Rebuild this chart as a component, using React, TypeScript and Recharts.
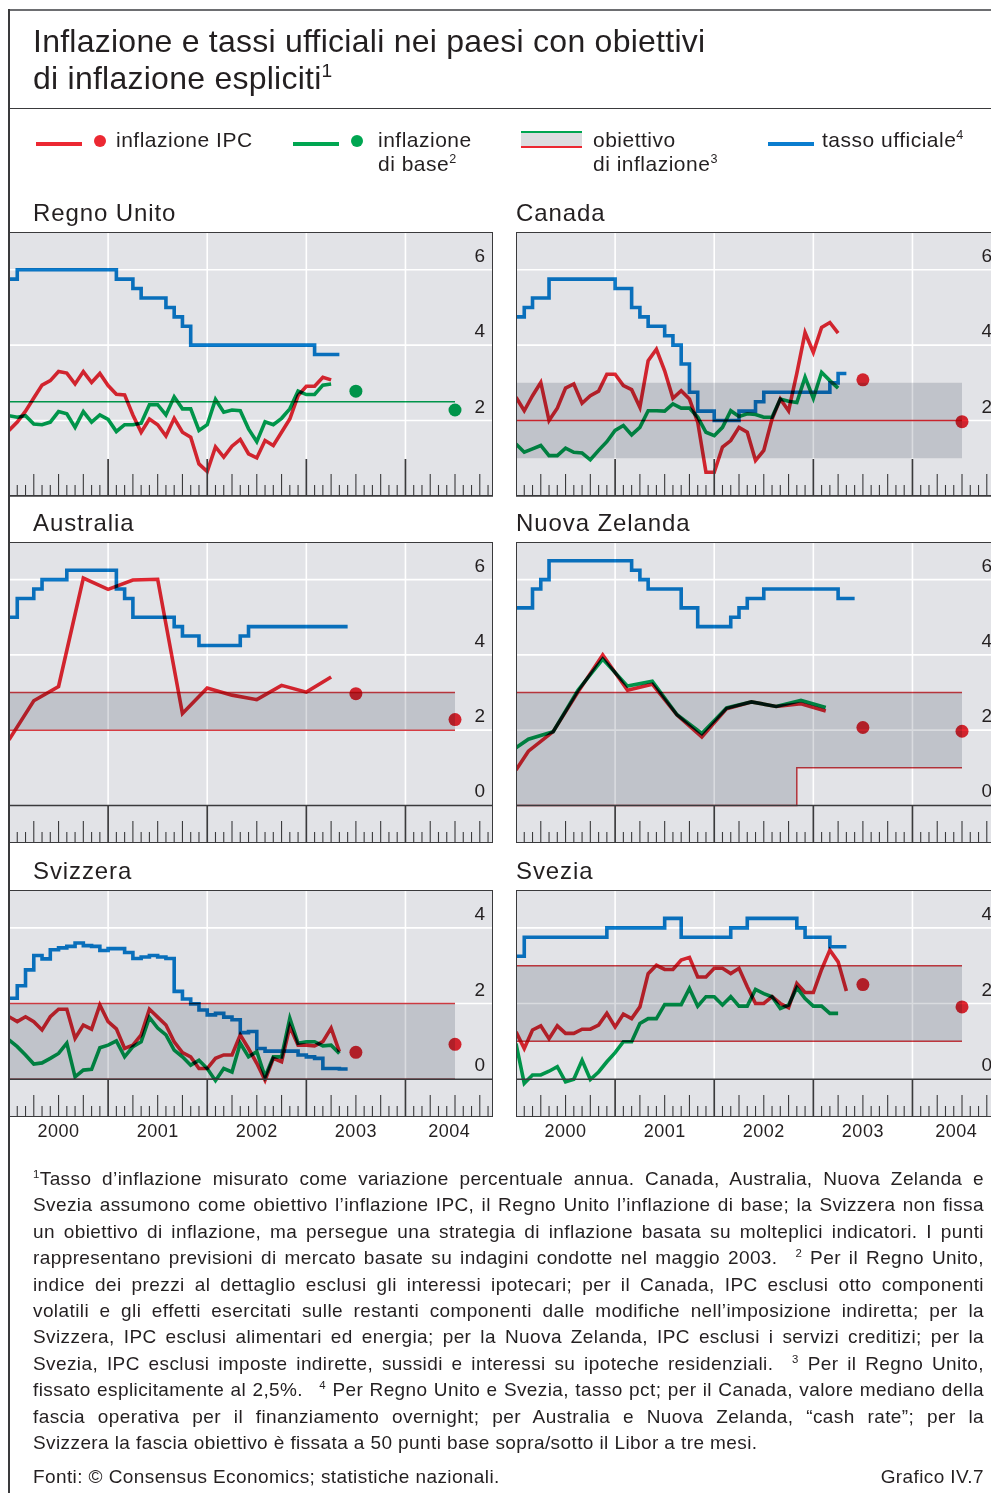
import { ComposedChart, Line, Area, Scatter, XAxis, YAxis, CartesianGrid, ReferenceLine } from "recharts"

const FONT = '"Liberation Sans", Arial, Helvetica, sans-serif'
const INK = "#231f20"
const DARK = "#3a3a3c"
const RED = "#ec2832"
const GREEN = "#00a651"
const BLUE = "#0a7dcf"
const EDGE = "#de3e45"
const BG = "#e2e3e7"
const BAND = "#d9dbdf"

// lines, band and dots are multiplied so overlaps darken like the print
const BLEND_CSS = `.recharts-line-curve,.recharts-area-area,.recharts-area-curve{mix-blend-mode:multiply}`

const X_MAX = 58.6
const PANEL_W = 484

// x axis: months from Jan 2000
const monthTicks = Array.from({ length: 58 }, (_, i) => i + 1)
const yearLines = [12, 24, 36, 48]
const yearLabels = ["2000", "2001", "2002", "2003", "2004"]
const yearLabelPos = [6, 18, 30, 42, 53.3]
const forecastMonths = [42, 54]
const bandMonths = [0, 54]

// Regno Unito
const ukCpi = [1.74, 1.96, 2.25, 2.6, 2.94, 3.06, 3.3, 3.26, 2.97, 3.3, 3.01, 3.25, 2.93, 2.7, 2.68, 2.15, 1.69, 2.04, 1.89, 1.59, 2.06, 1.69, 1.56, 0.85, 0.65, 1.3, 1.03, 1.32, 1.5, 1.12, 1.01, 1.47, 1.34, 1.69, 2.04, 2.66, 2.91, 2.91, 3.15, 3.08]
const ukCore = [2.13, 2.09, 2.13, 1.91, 1.89, 1.96, 2.24, 2.18, 1.82, 2.24, 1.96, 2.15, 2.03, 1.71, 1.89, 1.89, 1.93, 2.42, 2.42, 2.15, 2.63, 2.31, 2.31, 1.74, 1.89, 2.56, 2.22, 2.28, 2.26, 1.78, 1.44, 1.97, 1.89, 2.06, 2.31, 2.78, 2.69, 2.69, 2.94, 2.97]
const ukRate = [5.75, 6, 6, 6, 6, 6, 6, 6, 6, 6, 6, 6, 6, 5.75, 5.75, 5.5, 5.25, 5.25, 5.25, 5, 4.75, 4.5, 4, 4, 4, 4, 4, 4, 4, 4, 4, 4, 4, 4, 4, 4, 4, 3.75, 3.75, 3.75]
const ukCoreForecast = [2.78, 2.28]
const ukTarget = [2.5, 2.5]

// Canada
const caCpi = [2.62, 2.26, 2.66, 3.01, 2.0, 2.33, 2.86, 2.97, 2.46, 2.66, 2.78, 3.23, 3.23, 2.93, 2.82, 2.35, 3.59, 3.89, 3.32, 2.59, 2.79, 2.57, 1.96, 0.63, 0.63, 1.3, 1.47, 1.82, 1.69, 0.94, 1.21, 2.04, 2.57, 2.26, 3.25, 4.33, 3.81, 4.47, 4.6, 4.32]
const caCore = [1.38, 1.16, 1.25, 1.34, 1.07, 1.07, 1.27, 1.16, 1.14, 0.96, 1.21, 1.44, 1.74, 1.87, 1.62, 1.82, 2.26, 2.26, 2.25, 2.44, 2.33, 2.33, 2.09, 1.69, 1.6, 1.82, 2.26, 2.11, 2.18, 2.16, 2.09, 2.09, 2.57, 2.51, 2.48, 3.15, 2.59, 3.28, 3.06, 2.86]
const caRate = [4.75, 5, 5.25, 5.25, 5.75, 5.75, 5.75, 5.75, 5.75, 5.75, 5.75, 5.75, 5.5, 5.5, 5, 4.75, 4.5, 4.5, 4.25, 4, 3.5, 2.75, 2.25, 2.25, 2, 2, 2, 2.25, 2.25, 2.5, 2.75, 2.75, 2.75, 2.75, 2.75, 2.75, 2.75, 2.75, 3, 3.25]
const caCpiForecast = [3.08, 1.97]
const caBandLo = [1, 1]
const caBandHi = [3, 3]
const caMid = [2, 2]

// Australia
const auCpiMonths = [0, 3, 6, 9, 12, 15, 18, 21, 24, 27, 30, 33, 36, 39]
const auCpi = [1.74, 2.78, 3.16, 6.04, 5.74, 5.99, 6.01, 2.44, 3.12, 2.93, 2.81, 3.19, 3.01, 3.41]
const auRate = [5, 5.5, 5.5, 5.75, 6, 6, 6, 6.25, 6.25, 6.25, 6.25, 6.25, 6.25, 5.75, 5.5, 5, 5, 5, 5, 5, 4.75, 4.5, 4.5, 4.25, 4.25, 4.25, 4.25, 4.25, 4.5, 4.75, 4.75, 4.75, 4.75, 4.75, 4.75, 4.75, 4.75, 4.75, 4.75, 4.75, 4.75]
const auCpiForecast = [2.97, 2.28]
const auBandLo = [2, 2]
const auBandHi = [3, 3]

// Nuova Zelanda
const nzMonths = [0, 1.5, 4.5, 7.5, 10.5, 13.5, 16.5, 19.5, 22.5, 25.5, 28.5, 31.5, 34.5, 37.5]
const nzCpi = [0.94, 1.44, 1.96, 3.01, 4.0, 3.06, 3.22, 2.4, 1.82, 2.57, 2.75, 2.63, 2.7, 2.51]
const nzCore = [1.53, 1.76, 1.96, 3.06, 3.89, 3.17, 3.3, 2.41, 1.91, 2.59, 2.75, 2.63, 2.79, 2.6]
const nzRate = [5.25, 5.25, 5.75, 6, 6.5, 6.5, 6.5, 6.5, 6.5, 6.5, 6.5, 6.5, 6.5, 6.5, 6.25, 6, 5.75, 5.75, 5.75, 5.75, 5.25, 5.25, 4.75, 4.75, 4.75, 4.75, 5, 5.25, 5.5, 5.5, 5.75, 5.75, 5.75, 5.75, 5.75, 5.75, 5.75, 5.75, 5.75, 5.5, 5.5]
const nzCpiForecast = [2.07, 1.97]
const nzBandMonths = [0, 34, 54]
const nzBandLo = [0, 1, 1]
const nzBandHi = [3, 3, 3]

// Svizzera
const chCpi = [1.65, 1.52, 1.65, 1.52, 1.3, 1.65, 1.85, 1.85, 1.08, 1.43, 1.32, 1.96, 1.52, 1.33, 0.81, 0.9, 1.17, 1.85, 1.64, 1.43, 0.99, 0.7, 0.59, 0.28, 0.28, 0.55, 0.64, 0.64, 1.17, 0.81, 0.42, -0.03, 0.55, 0.46, 1.39, 0.9, 0.9, 0.88, 0.99, 1.35, 0.73]
const chCore = [1.04, 0.86, 0.64, 0.4, 0.43, 0.55, 0.68, 0.95, 0.06, 0.24, 0.26, 0.83, 0.9, 1.01, 0.59, 0.86, 0.99, 1.63, 1.35, 1.17, 0.77, 0.59, 0.37, 0.5, 0.28, -0.04, 0.28, 0.19, 0.95, 0.59, 0.73, 0.06, 0.59, 0.59, 1.61, 0.95, 0.99, 0.99, 0.88, 0.9, 0.68]
const chRate = [2.14, 2.47, 2.89, 3.27, 3.18, 3.42, 3.47, 3.51, 3.6, 3.53, 3.51, 3.4, 3.45, 3.45, 3.35, 3.19, 3.23, 3.27, 3.23, 3.19, 2.32, 2.12, 1.99, 1.83, 1.7, 1.74, 1.64, 1.57, 1.23, 1.26, 0.81, 0.74, 0.74, 0.74, 0.74, 0.64, 0.59, 0.55, 0.28, 0.28, 0.27]
const chCpiForecast = [0.71, 0.92]
const chBandLo = [0, 0]
const chBandHi = [2, 2]

// Svezia
const seCpi = [1.25, 0.81, 1.3, 1.41, 1.07, 1.41, 1.21, 1.21, 1.32, 1.32, 1.43, 1.74, 1.38, 1.72, 1.6, 1.91, 2.79, 3.01, 2.9, 2.9, 3.15, 3.22, 2.7, 2.7, 2.93, 2.93, 2.79, 2.93, 2.44, 2.0, 2.0, 2.18, 2.0, 1.89, 2.53, 2.29, 2.29, 2.9, 3.41, 3.1, 2.33]
const seCore = [0.94, -0.11, 0.11, 0.11, 0.21, 0.33, -0.07, 0.0, 0.5, -0.01, 0.19, 0.46, 0.7, 0.99, 0.99, 1.47, 1.6, 1.6, 1.97, 1.97, 1.97, 2.4, 1.93, 2.18, 2.18, 1.96, 2.18, 1.93, 1.93, 2.37, 2.26, 2.18, 1.87, 1.96, 2.42, 2.13, 1.93, 1.93, 1.74, 1.74]
const seRate = [3.25, 3.75, 3.75, 3.75, 3.75, 3.75, 3.75, 3.75, 3.75, 3.75, 3.75, 4, 4, 4, 4, 4, 4, 4, 4.25, 4.25, 3.75, 3.75, 3.75, 3.75, 3.75, 3.75, 4, 4, 4.25, 4.25, 4.25, 4.25, 4.25, 4.25, 4, 3.75, 3.75, 3.75, 3.5, 3.5]
const seCpiForecast = [2.5, 1.91]
const seBandLo = [1, 1]
const seBandHi = [3, 3]

const monthly = (vals: number[]) => vals.map((v, i) => ({ m: i, v }))
// step series: repeat the last level for one more month so the final step is drawn
const stepped = (vals: number[]) => [...monthly(vals), { m: vals.length, v: vals[vals.length - 1] }]
const at = (months: number[], vals: number[]) => vals.map((v, i) => ({ m: months[i], v }))
const range = (months: number[], lo: number[], hi: number[]) => months.map((m, i) => ({ m, r: [lo[i], hi[i]] }))

const S = ({ n }: { n: string }) => (
  <sup style={{ fontSize: "0.6em", lineHeight: 0, verticalAlign: "0.6em" }}>{n}</sup>
)

// month ticks rise from the bottom of the plot; bottom row also carries the year labels
const AxisTick = ({ x, payload, bottom, years }: any) => {
  const v = payload.value
  const li = yearLabelPos.indexOf(v)
  const len = v % 12 === 0 ? 37 : v % 3 === 0 ? 22 : 11
  return (
    <g>
      {Number.isInteger(v) && (
        <line x1={x} x2={x} y1={bottom} y2={bottom - len} stroke={DARK} strokeWidth={v % 12 === 0 ? 1.7 : 1.1} />
      )}
      {years && li >= 0 && (
        <text x={x} y={bottom + 20} textAnchor="middle" fontSize={18} letterSpacing={0.5} fill={INK} fontFamily={FONT}>
          {yearLabels[li]}
        </text>
      )}
    </g>
  )
}

const dotShape = (color: string) => (props: any) => (
  <circle cx={props.cx} cy={props.cy} r={6.5} fill={color} style={{ mixBlendMode: "multiply" }} />
)

interface PanelProps {
  title: string
  left: number
  top: number
  h: number
  yMin: number
  yMax: number
  yTicks: number[]
  years?: boolean
  cpi: { m: number; v: number }[]
  core?: { m: number; v: number }[]
  rate: { m: number; v: number }[]
  dots: { m: number; v: number }[]
  dotColor: string
  band?: { m: number; r: number[] }[]
  bandType?: "linear" | "stepAfter"
  bandEdges?: boolean
  refLine?: { m: number; v: number }[]
  refColor?: string
}

function Panel(p: PanelProps) {
  const axisH = p.years ? 31 : 1
  const ticks = p.years ? Array.from(new Set([...monthTicks, ...yearLabelPos])).sort((a, b) => a - b) : monthTicks
  return (
    <>
      <div style={{ position: "absolute", left: p.left === 9 ? 33 : p.left, top: p.top - 33, fontSize: 24, letterSpacing: 0.9, lineHeight: "28px", whiteSpace: "nowrap" }}>
        {p.title}
      </div>
      <div style={{ position: "absolute", left: p.left, top: p.top, width: PANEL_W + 1, height: p.h + axisH }}>
        <ComposedChart width={PANEL_W + 1} height={p.h + axisH} margin={{ top: 0, right: 0, bottom: 0, left: 0 }}>
          <CartesianGrid
            fill={BG}
            fillOpacity={1}
            stroke="#ffffff"
            strokeWidth={1.6}
            horizontalValues={p.yTicks.filter((t) => t > 0)}
            verticalValues={yearLines}
          />
          <XAxis
            dataKey="m"
            type="number"
            domain={[0, X_MAX]}
            ticks={ticks}
            interval={0}
            height={axisH}
            axisLine={false}
            tickLine={false}
            tick={(t: any) => <AxisTick {...t} bottom={p.h} years={p.years} />}
          />
          <YAxis
            orientation="right"
            type="number"
            domain={[p.yMin, p.yMax]}
            ticks={p.yTicks}
            width={1}
            axisLine={false}
            tickLine={false}
            tick={(t: any) => (
              <text x={PANEL_W - 8} y={t.y - 8} textAnchor="end" fontSize={19} fill={INK} fontFamily={FONT}>
                {t.payload.value}
              </text>
            )}
          />
          {p.band && (
            <Area
              data={p.band}
              dataKey="r"
              type={p.bandType ?? "linear"}
              fill={BAND}
              fillOpacity={1}
              stroke={p.bandEdges ? EDGE : "none"}
              strokeWidth={1.5}
              dot={false}
              activeDot={false}
              isAnimationActive={false}
            />
          )}
          {p.refLine && (
            <Line data={p.refLine} dataKey="v" stroke={p.refColor} strokeWidth={1.5} dot={false} activeDot={false} isAnimationActive={false} />
          )}
          <Line data={p.rate} dataKey="v" type="stepAfter" stroke={BLUE} strokeWidth={3.6} dot={false} activeDot={false} isAnimationActive={false} />
          {p.core && (
            <Line data={p.core} dataKey="v" stroke={GREEN} strokeWidth={3.6} dot={false} activeDot={false} isAnimationActive={false} />
          )}
          <Line data={p.cpi} dataKey="v" stroke={RED} strokeWidth={3.6} dot={false} activeDot={false} isAnimationActive={false} />
          <ReferenceLine y={0} stroke={DARK} strokeWidth={1.5} />
          <Scatter data={p.dots} dataKey="v" shape={dotShape(p.dotColor)} isAnimationActive={false} />
        </ComposedChart>
        <div
          style={{
            position: "absolute",
            left: 0,
            top: 0,
            width: PANEL_W,
            height: p.h,
            border: `1.5px solid ${DARK}`,
            boxSizing: "border-box",
            pointerEvents: "none",
          }}
        />
      </div>
    </>
  )
}

const legendText: React.CSSProperties = {
  position: "absolute",
  top: 128,
  fontSize: 21,
  letterSpacing: 0.5,
  lineHeight: "24px",
  whiteSpace: "nowrap",
}

const notes = [
  <><S n="1" />Tasso d’inflazione misurato come variazione percentuale annua. Canada, Australia, Nuova Zelanda e</>,
  <>Svezia assumono come obiettivo l’inflazione IPC, il Regno Unito l’inflazione di base; la Svizzera non fissa</>,
  <>un obiettivo di inflazione, ma persegue una strategia di inflazione basata su molteplici indicatori. I punti</>,
  <>rappresentano previsioni di mercato basate su indagini condotte nel maggio 2003. {"\u2002"}<S n="2" /> Per il Regno Unito,</>,
  <>indice dei prezzi al dettaglio esclusi gli interessi ipotecari; per il Canada, IPC esclusi otto componenti</>,
  <>volatili e gli effetti esercitati sulle restanti componenti dalle modifiche nell’imposizione indiretta; per la</>,
  <>Svizzera, IPC esclusi alimentari ed energia; per la Nuova Zelanda, IPC esclusi i servizi creditizi; per la</>,
  <>Svezia, IPC esclusi imposte indirette, sussidi e interessi su ipoteche residenziali. {"\u2002"}<S n="3" /> Per il Regno Unito,</>,
  <>fissato esplicitamente al 2,5%. {"\u2002"}<S n="4" /> Per Regno Unito e Svezia, tasso pct; per il Canada, valore mediano della</>,
  <>fascia operativa per il finanziamento overnight; per Australia e Nuova Zelanda, “cash rate”; per la</>,
]
const lastNote = "Svizzera la fascia obiettivo è fissata a 50 punti base sopra/sotto il Libor a tre mesi."

export default function App() {
  return (
    <div
      style={{
        position: "absolute",
        left: 0,
        top: 0,
        width: 991,
        height: 1493,
        overflow: "hidden",
        background: "#ffffff",
        fontFamily: FONT,
        color: INK,
      }}
    >
      <style>{BLEND_CSS}</style>

      {/* frame */}
      <div style={{ position: "absolute", left: 8, top: 9, width: 983, height: 2, background: "#6d6e71" }} />
      <div style={{ position: "absolute", left: 8, top: 9, width: 1.5, height: 1484, background: DARK }} />
      <div style={{ position: "absolute", left: 8, top: 107.5, width: 983, height: 1.5, background: DARK }} />

      {/* title */}
      <div style={{ position: "absolute", left: 33, top: 23.4, fontSize: 32, letterSpacing: 0.25, lineHeight: "37px", whiteSpace: "nowrap" }}>
        Inflazione e tassi ufficiali nei paesi con obiettivi
        <br />
        di inflazione espliciti<S n="1" />
      </div>

      {/* legend */}
      <div style={{ position: "absolute", left: 36, top: 142, width: 46, height: 4, background: RED }} />
      <div style={{ position: "absolute", left: 94, top: 135, width: 12, height: 12, borderRadius: 6, background: RED }} />
      <div style={{ ...legendText, left: 116 }}>inflazione IPC</div>

      <div style={{ position: "absolute", left: 293, top: 142, width: 46, height: 4, background: GREEN }} />
      <div style={{ position: "absolute", left: 351, top: 135, width: 12, height: 12, borderRadius: 6, background: GREEN }} />
      <div style={{ ...legendText, left: 378 }}>
        inflazione
        <br />
        di base<S n="2" />
      </div>

      <div
        style={{
          position: "absolute",
          left: 521,
          top: 131,
          width: 61,
          height: 17,
          background: "#dcdde0",
          borderTop: `2.5px solid ${GREEN}`,
          borderBottom: `2.5px solid ${RED}`,
          boxSizing: "border-box",
        }}
      />
      <div style={{ ...legendText, left: 593 }}>
        obiettivo
        <br />
        di inflazione<S n="3" />
      </div>

      <div style={{ position: "absolute", left: 768, top: 142, width: 46, height: 4, background: BLUE }} />
      <div style={{ ...legendText, left: 822 }}>
        tasso ufficiale<S n="4" />
      </div>

      {/* panels */}
      <Panel
        title="Regno Unito"
        left={9}
        top={232}
        h={264}
        yMin={0}
        yMax={7}
        yTicks={[0, 2, 4, 6]}
        cpi={monthly(ukCpi)}
        core={monthly(ukCore)}
        rate={stepped(ukRate)}
        dots={at(forecastMonths, ukCoreForecast)}
        dotColor={GREEN}
        refLine={at(bandMonths, ukTarget)}
        refColor={GREEN}
      />
      <Panel
        title="Canada"
        left={516}
        top={232}
        h={264}
        yMin={0}
        yMax={7}
        yTicks={[0, 2, 4, 6]}
        cpi={monthly(caCpi)}
        core={monthly(caCore)}
        rate={stepped(caRate)}
        dots={at(forecastMonths, caCpiForecast)}
        dotColor={RED}
        band={range(bandMonths, caBandLo, caBandHi)}
        refLine={at(bandMonths, caMid)}
        refColor={RED}
      />
      <Panel
        title="Australia"
        left={9}
        top={542}
        h={301}
        yMin={-1}
        yMax={7}
        yTicks={[0, 2, 4, 6]}
        cpi={at(auCpiMonths, auCpi)}
        rate={stepped(auRate)}
        dots={at(forecastMonths, auCpiForecast)}
        dotColor={RED}
        band={range(bandMonths, auBandLo, auBandHi)}
        bandEdges
      />
      <Panel
        title="Nuova Zelanda"
        left={516}
        top={542}
        h={301}
        yMin={-1}
        yMax={7}
        yTicks={[0, 2, 4, 6]}
        cpi={at(nzMonths, nzCpi)}
        core={at(nzMonths, nzCore)}
        rate={stepped(nzRate)}
        dots={at(forecastMonths, nzCpiForecast)}
        dotColor={RED}
        band={range(nzBandMonths, nzBandLo, nzBandHi)}
        bandType="stepAfter"
        bandEdges
      />
      <Panel
        title="Svizzera"
        left={9}
        top={890}
        h={227}
        yMin={-1}
        yMax={5}
        yTicks={[0, 2, 4]}
        years
        cpi={monthly(chCpi)}
        core={monthly(chCore)}
        rate={stepped(chRate)}
        dots={at(forecastMonths, chCpiForecast)}
        dotColor={RED}
        band={range(bandMonths, chBandLo, chBandHi)}
        bandEdges
      />
      <Panel
        title="Svezia"
        left={516}
        top={890}
        h={227}
        yMin={-1}
        yMax={5}
        yTicks={[0, 2, 4]}
        years
        cpi={monthly(seCpi)}
        core={monthly(seCore)}
        rate={stepped(seRate)}
        dots={at(forecastMonths, seCpiForecast)}
        dotColor={RED}
        band={range(bandMonths, seBandLo, seBandHi)}
        bandEdges
      />

      {/* footnotes */}
      <div style={{ position: "absolute", left: 33, top: 1166, width: 951, fontSize: 19, letterSpacing: 0.4, lineHeight: "26.4px" }}>
        {notes.map((n, i) => (
          <div key={i} style={{ textAlign: "justify", textAlignLast: "justify", height: 26.4 }}>
            {n}
          </div>
        ))}
        <div style={{ height: 26.4 }}>{lastNote}</div>
      </div>
      <div style={{ position: "absolute", left: 33, top: 1464, fontSize: 19, letterSpacing: 0.4, lineHeight: "26.4px", whiteSpace: "nowrap" }}>
        Fonti: © Consensus Economics; statistiche nazionali.
      </div>
      <div style={{ position: "absolute", right: 7, top: 1464, fontSize: 19, letterSpacing: 0.4, lineHeight: "26.4px", whiteSpace: "nowrap" }}>
        Grafico IV.7
      </div>
    </div>
  )
}
